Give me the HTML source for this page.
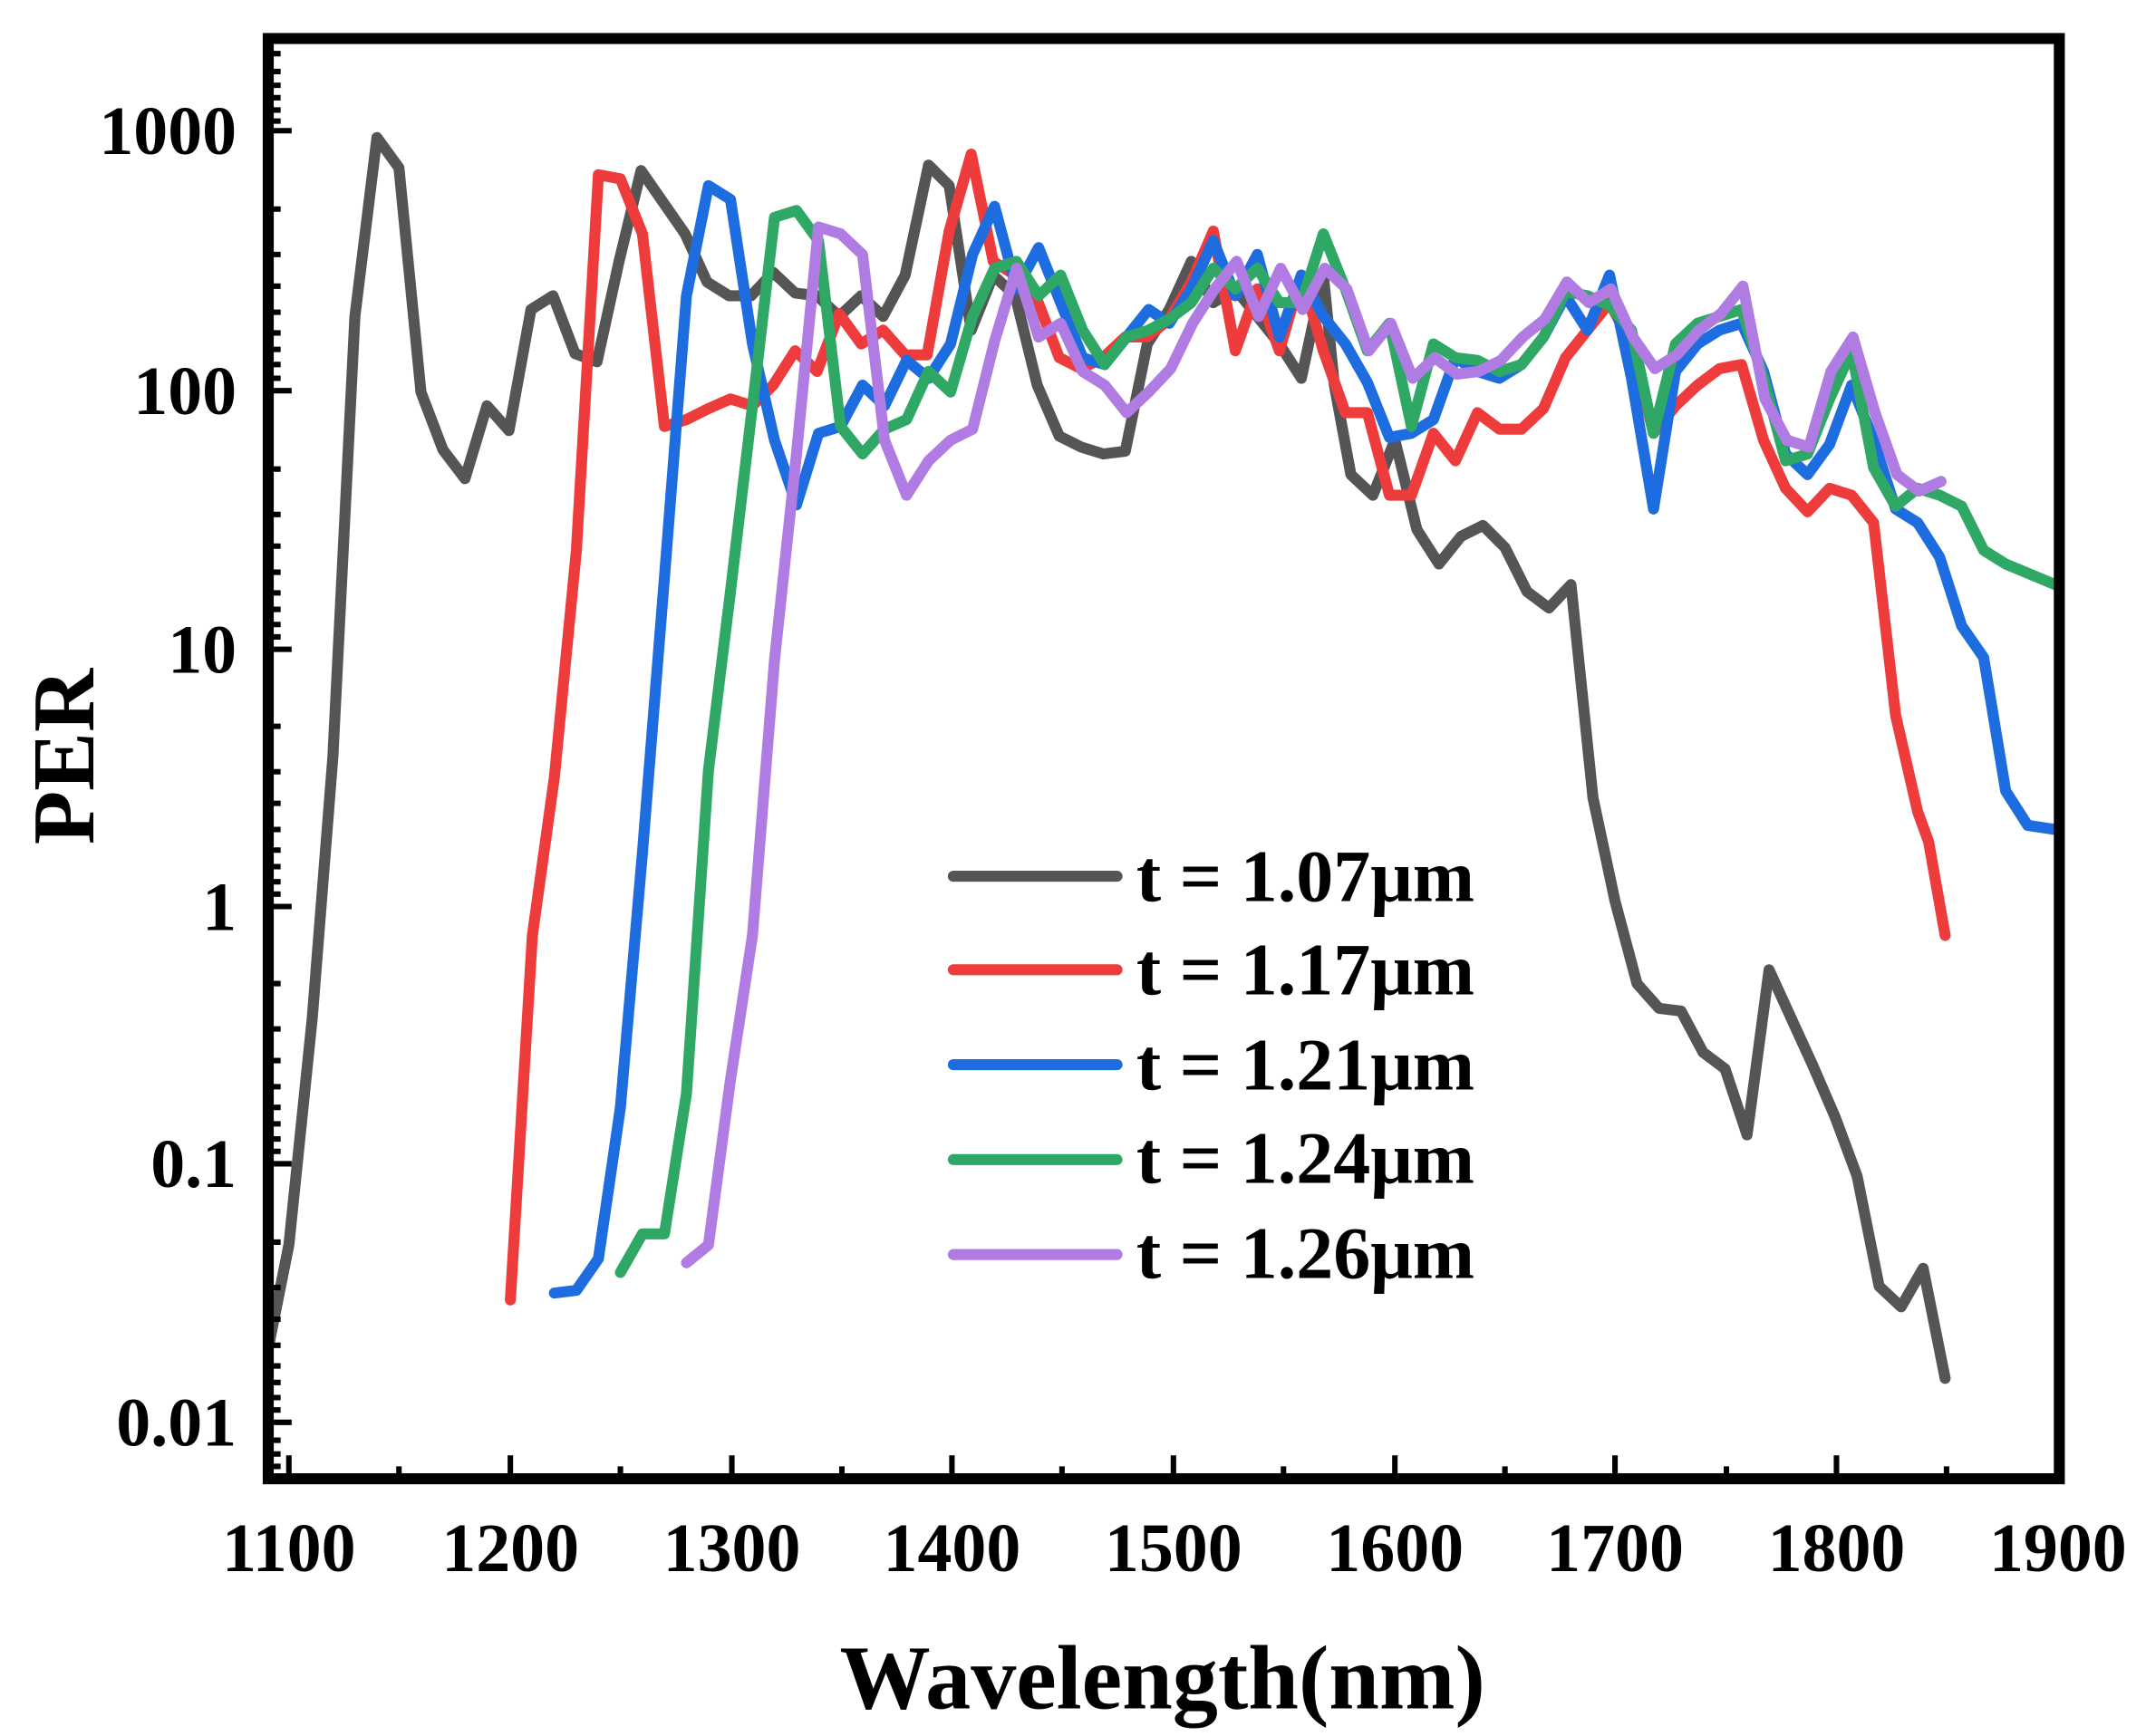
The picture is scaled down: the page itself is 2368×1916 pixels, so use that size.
<!DOCTYPE html>
<html><head><meta charset="utf-8"><style>html,body{margin:0;padding:0;background:#fff}svg{display:block}</style></head>
<body>
<svg width="2368" height="1916" viewBox="0 0 1560 1262" preserveAspectRatio="none" xmlns="http://www.w3.org/2000/svg">
<rect width="1560" height="1262" fill="#fff"/>
<g fill="none" stroke-width="8" stroke-linejoin="round" stroke-linecap="round">
<polyline stroke="#555" points="195,980 210,905 227,740 242,550 258,230 274,100 290,122 306,285 322,327 338,348 354,295 370,313 386,225 402,215 418,257 434,263 450,190 466,124 482,147 498,170 514,205 530,215 546,215 562,198 578,213 594,215 610,230 626,215 642,230 658,200 675,120 690,135 706,240 722,200 738,215 754,280 770,317 786,325 802,330 818,328 834,250 850,225 866,190 882,220 898,210 914,230 930,250 946,275 962,200 970,280 982,345 998,360 1014,320 1030,385 1046,410 1062,390 1078,382 1094,398 1110,430 1126,442 1142,425 1158,580 1174,655 1190,715 1206,733 1222,735 1238,765 1254,777 1270,825 1286,705 1302,740 1318,775 1334,812 1350,855 1366,935 1382,950 1398,922 1414,1002"/>
<polyline stroke="#ee3b3b" points="371,945 387,680 403,565 419,400 435,127 451,130 467,170 483,310 499,305 515,297 531,290 547,295 562,280 578,255 594,270 610,228 626,250 642,240 658,258 674,258 690,168 706,112 722,190 738,200 754,218 770,260 786,268 802,260 818,245 834,245 850,232 866,205 882,168 898,255 914,210 930,255 946,200 962,255 978,300 994,300 1010,360 1026,360 1042,315 1058,335 1074,300 1090,312 1106,312 1122,297 1138,260 1154,240 1170,220 1186,250 1202,315 1218,295 1234,280 1250,268 1266,265 1282,320 1298,355 1314,372 1330,355 1346,360 1362,380 1378,520 1394,590 1402,612 1414,680"/>
<polyline stroke="#1e6de0" points="403,940 419,938 435,915 451,805 467,620 483,420 499,215 515,135 531,145 547,250 563,320 579,367 595,315 611,310 627,280 643,295 659,262 675,275 691,250 707,185 723,150 739,210 755,180 771,220 787,260 803,265 819,245 835,225 850,235 866,210 882,175 898,215 914,185 930,245 946,200 962,230 978,250 994,278 1010,318 1026,315 1042,305 1058,260 1074,270 1090,275 1106,265 1122,245 1138,215 1154,240 1170,200 1186,275 1202,370 1218,270 1234,250 1250,240 1266,235 1282,270 1298,330 1314,345 1330,323 1346,280 1362,320 1378,370 1394,380 1410,405 1426,455 1442,478 1458,575 1474,600 1494,603"/>
<polyline stroke="#2fa866" points="451,925 467,897 483,897 499,795 515,560 531,430 547,295 563,158 579,153 595,175 611,310 627,330 643,312 659,305 675,270 691,285 707,230 723,195 739,190 755,215 771,200 787,240 803,265 819,245 835,240 850,232 866,220 882,195 898,210 914,195 930,220 946,220 962,170 978,210 994,255 1010,235 1026,310 1042,250 1058,260 1074,262 1090,270 1106,265 1122,245 1138,212 1154,215 1170,222 1186,240 1202,315 1218,250 1234,235 1250,230 1266,225 1282,275 1298,335 1314,330 1330,290 1346,255 1362,340 1378,368 1394,355 1410,360 1426,368 1442,400 1458,410 1494,425"/>
<polyline stroke="#b07ce4" points="499,918 515,905 531,785 547,680 563,480 579,330 595,165 611,170 627,185 643,320 659,360 675,335 691,320 707,312 723,248 739,195 755,245 771,235 787,270 803,280 819,300 835,285 851,268 867,235 883,210 899,190 915,230 931,195 947,225 963,195 979,210 995,255 1011,235 1027,275 1043,260 1059,272 1075,270 1091,262 1107,245 1123,232 1139,205 1155,220 1171,210 1187,245 1203,268 1219,258 1235,240 1251,228 1267,208 1283,290 1299,320 1315,325 1331,270 1347,245 1363,300 1379,345 1395,357 1411,350"/>
</g>
<rect x="195" y="28" width="1302" height="1047" fill="none" stroke="#000" stroke-width="8"/>
<g font-family="Liberation Serif, serif" font-weight="bold" fill="#000">
<g font-size="50" text-anchor="end">
<text x="172" y="112">1000</text><text x="172" y="301">100</text><text x="172" y="489">10</text><text x="172" y="676">1</text><text x="172" y="863">0.1</text><text x="172" y="1051">0.01</text>
</g>
<g font-size="50" text-anchor="middle">
<text x="210" y="1142">1100</text><text x="371" y="1142">1200</text><text x="532" y="1142">1300</text><text x="692" y="1142">1400</text><text x="853" y="1142">1500</text><text x="1014" y="1142">1600</text><text x="1174" y="1142">1700</text><text x="1335" y="1142">1800</text><text x="1496" y="1142">1900</text>
</g>
<text x="845" y="1242" font-size="66" text-anchor="middle">Wavelength(nm)</text>
<text transform="translate(68,550) rotate(-90)" font-size="64" text-anchor="middle">PER</text>
<g font-size="54">
<text x="826" y="655">t = 1.07μm</text><text x="826" y="723">t = 1.17μm</text><text x="826" y="792">t = 1.21μm</text><text x="826" y="860">t = 1.24μm</text><text x="826" y="929">t = 1.26μm</text>
</g>
</g>
<g stroke-width="8" stroke-linecap="round">
<line x1="693" y1="637" x2="812" y2="637" stroke="#555"/>
<line x1="693" y1="705" x2="812" y2="705" stroke="#ee3b3b"/>
<line x1="693" y1="774" x2="812" y2="774" stroke="#1e6de0"/>
<line x1="693" y1="843" x2="812" y2="843" stroke="#2fa866"/>
<line x1="693" y1="912" x2="812" y2="912" stroke="#b07ce4"/>
</g>
<g stroke="#000" stroke-width="4">
<path d="M195,95h17M195,284h17M195,472h17M195,659h17M195,846h17M195,1034h17"/>
<path d="M195,39h9M195,52h9M195,62h9M195,71h9M195,80h9M195,88h9
M195,152h9M195,185h9M195,208h9M195,227h9M195,242h9M195,254h9M195,265h9M195,275h9
M195,341h9M195,374h9M195,397h9M195,416h9M195,431h9M195,443h9M195,454h9M195,463h9
M195,528h9M195,561h9M195,584h9M195,603h9M195,618h9M195,630h9M195,641h9M195,650h9
M195,715h9M195,748h9M195,771h9M195,790h9M195,805h9M195,817h9M195,828h9M195,837h9
M195,903h9M195,936h9M195,959h9M195,978h9M195,993h9M195,1005h9M195,1016h9M195,1025h9
M195,1047h9M195,1057h9M195,1066h9"/>
<path d="M210,1075v-17M371,1075v-17M532,1075v-17M692,1075v-17M853,1075v-17M1014,1075v-17M1174,1075v-17M1335,1075v-17"/>
<path d="M290,1075v-9M451,1075v-9M612,1075v-9M772,1075v-9M933,1075v-9M1094,1075v-9M1255,1075v-9M1415,1075v-9"/>
</g>
</svg>
</body></html>
